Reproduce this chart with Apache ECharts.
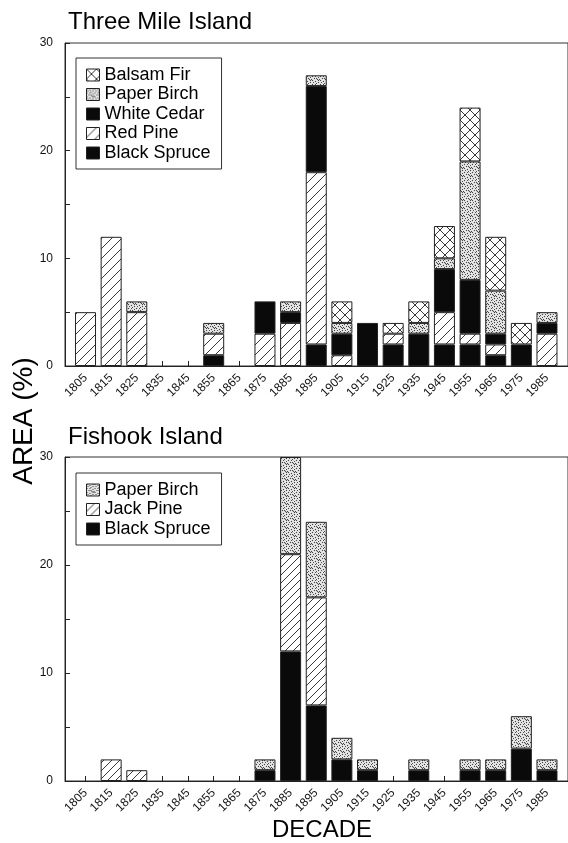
<!DOCTYPE html>
<html><head><meta charset="utf-8">
<script src="https://cdn.jsdelivr.net/npm/echarts@6/dist/echarts.min.js"></script>
<style>html,body{margin:0;padding:0;background:#fff}#c{width:568px;height:843px}</style>
</head><body><div id="c"></div>
<script>
// ---- data ----
const decades = ['1805','1815','1825','1835','1845','1855','1865','1875','1885','1895','1905','1915','1925','1935','1945','1955','1965','1975','1985'];
const yTicks = [0,10,20,30];
// Three Mile Island (stack order bottom -> top)
const tmiBlackSpruce = [0,0,0,0,0,1,0,0,0,2,0,4,2,3,2,2,1,2,0];
const tmiRedPine     = [5,12,5,0,0,2,0,3,4,16,1,0,1,0,3,1,1,0,3];
const tmiWhiteCedar  = [0,0,0,0,0,0,0,3,1,8,2,0,0,0,4,5,1,0,1];
const tmiPaperBirch  = [0,0,1,0,0,1,0,0,1,1,1,0,0,1,1,11,4,0,1];
const tmiBalsamFir   = [0,0,0,0,0,0,0,0,0,0,2,0,1,2,3,5,5,2,0];
// Fishook Island
const fiBlackSpruce = [0,0,0,0,0,0,0,1,12,7,2,1,0,1,0,1,1,3,1];
const fiJackPine    = [0,2,1,0,0,0,0,0,9,10,0,0,0,0,0,0,0,0,0];
const fiPaperBirch  = [0,0,0,0,0,0,0,1,9,7,2,1,0,1,0,1,1,3,1];

// ---- fill patterns ----
function tile(size, draw){
  const c=document.createElement('canvas'); c.width=size; c.height=size;
  const g=c.getContext('2d'); g.fillStyle='#fff'; g.fillRect(0,0,size,size);
  draw(g,size); return {image:c, repeat:'repeat'};
}
function diag(g,s){ g.beginPath(); g.moveTo(-1,s+1); g.lineTo(s+1,-1); g.moveTo(-2,2); g.lineTo(2,-2); g.moveTo(s-2,s+2); g.lineTo(s+2,s-2); g.stroke(); }
function anti(g,s){ g.beginPath(); g.moveTo(-1,-1); g.lineTo(s+1,s+1); g.moveTo(-2,s-2); g.lineTo(2,s+2); g.moveTo(s-2,-2); g.lineTo(s+2,2); g.stroke(); }
const hatchRed = tile(10,(g,s)=>{g.strokeStyle='#222';g.lineWidth=0.9;diag(g,s);});
const hatchJack = tile(8,(g,s)=>{g.strokeStyle='#222';g.lineWidth=0.9;diag(g,s);});
const cross = tile(10,(g,s)=>{g.strokeStyle='#222';g.lineWidth=0.9;diag(g,s);anti(g,s);});
const DOTS = ['#.....#.','...#....','.#....#.','....#...','#..#....','......#.','..#.#...','.....#.#'];
const stipple = tile(8,(g)=>{
  for(let r=0;r<8;r++) for(let c=0;c<8;c++){
    g.fillStyle = DOTS[r][c]==='#' ? '#444' : ((r+c)%2 ? '#d8d8d8' : '#ececec');
    g.fillRect(c,r,1,1);
  }
});
const solid = '#0a0a0a';

const FONT = 'Liberation Sans';
// bar grids are 2 and 3 (category), frame grids 0 and 1
function ser(name, vals, fill, gi){
  return {
    name, type:'bar', stack:'s'+gi, xAxisIndex:gi, yAxisIndex:gi, barWidth:21,
    itemStyle:{color:fill, borderColor:'#222', borderWidth:1},
    emphasis:{disabled:true}, animation:false,
    data: vals.map(v => v > 0 ? v : '-')
  };
}
function frameX(gi){
  return {type:'value', gridIndex:gi, min:0, max:1, axisLine:{show:true, onZero:false, lineStyle:{color:'#222'}},
    axisTick:{show:false}, axisLabel:{show:false}, splitLine:{show:false}};
}
function frameY(gi){
  return {
    type:'value', gridIndex:gi, min:0, max:30, interval:5,
    axisLine:{show:true, lineStyle:{color:'#222', width:1}},
    axisTick:{show:true, inside:true, length:5, lineStyle:{color:'#222'}},
    axisLabel:{fontSize:12, margin:12, color:'#111', fontFamily:FONT,
      formatter:v=> yTicks.indexOf(v)>=0 ? String(v) : ''},
    splitLine:{show:false}
  };
}
function barX(gi){
  return {
    type:'category', gridIndex:gi, data:decades, boundaryGap:true,
    axisLine:{show:false},
    axisTick:{show:true, inside:true, length:5, alignWithLabel:true, lineStyle:{color:'#222'}},
    axisLabel:{rotate:45, fontSize:12, margin:10, color:'#111', fontFamily:FONT, interval:0},
    splitLine:{show:false}
  };
}
function barY(gi){
  return {type:'value', gridIndex:gi, min:0, max:30, show:false, splitLine:{show:false}};
}
function leg(names, top){
  return {
    orient:'vertical', left:76, top, data:names, selectedMode:false,
    backgroundColor:'#fff', borderColor:'#333', borderWidth:1,
    padding:[8,11,7,10], itemWidth:13, itemHeight:12, itemGap:1.5,
    itemStyle:{borderColor:'#222', borderWidth:1},
    textStyle:{fontSize:18, fontFamily:FONT, color:'#000'},
    icon:'rect'
  };
}

const chart = echarts.init(document.getElementById('c'), null, {renderer:'canvas'});
chart.setOption({
  backgroundColor:'#fff',
  animation:false,
  title:[
    {text:'Three Mile Island', left:68, top:10, padding:0, textStyle:{fontSize:24, fontWeight:'normal', fontFamily:FONT, color:'#000'}},
    {text:'Fishook Island', left:68, top:425, padding:0, textStyle:{fontSize:24, fontWeight:'normal', fontFamily:FONT, color:'#000'}}
  ],
  grid:[
    {left:65, right:-2, top:43, height:323, show:true, borderColor:'#333', borderWidth:1},
    {left:65, right:-2, top:457, height:324, show:true, borderColor:'#333', borderWidth:1},
    {left:72.7, right:8.2, top:43, height:323},
    {left:72.7, right:8.2, top:457, height:324}
  ],
  xAxis:[ frameX(0), frameX(1), barX(2), barX(3) ],
  yAxis:[ frameY(0), frameY(1), barY(2), barY(3) ],
  legend:[
    leg(['Balsam Fir','Paper Birch','White Cedar','Red Pine','Black Spruce'], 58),
    leg(['Paper Birch','Jack Pine','Black Spruce'], 473)
  ],
  graphic:[
    {type:'text', x:24, y:421, rotation:Math.PI/2,
     style:{text:'AREA (%)', font:'28px "Liberation Sans"', fill:'#000', align:'center', verticalAlign:'middle'}},
    {type:'text', x:322, y:842,
     style:{text:'DECADE', font:'24px "Liberation Sans"', fill:'#000', align:'center', verticalAlign:'bottom'}}
  ],
  series:[
    ser('Black Spruce', tmiBlackSpruce, solid, 2),
    ser('Red Pine', tmiRedPine, hatchRed, 2),
    ser('White Cedar', tmiWhiteCedar, solid, 2),
    ser('Paper Birch', tmiPaperBirch, stipple, 2),
    ser('Balsam Fir', tmiBalsamFir, cross, 2),
    ser('Black Spruce', fiBlackSpruce, solid, 3),
    ser('Jack Pine', fiJackPine, hatchJack, 3),
    ser('Paper Birch', fiPaperBirch, stipple, 3)
  ]
});
</script></body></html>
